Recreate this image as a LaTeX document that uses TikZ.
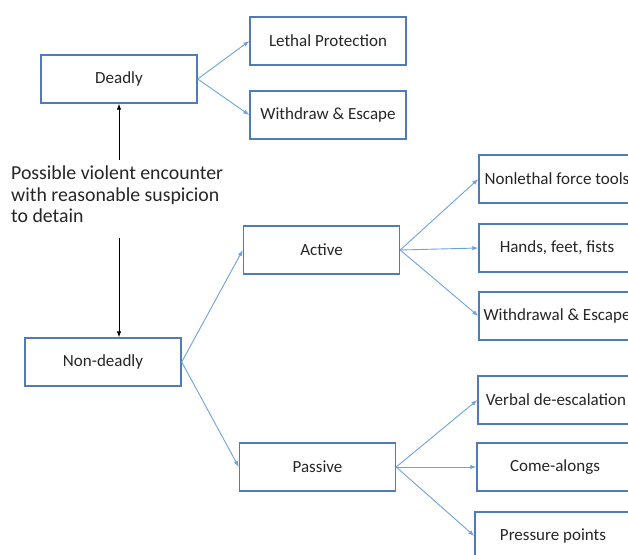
\documentclass[tikz,border=0pt]{standalone}
\usepackage{fontspec}
\setmainfont{Carlito}
\usetikzlibrary{arrows.meta}
\definecolor{boxblue}{HTML}{4F7CB8}
\definecolor{lineblue}{HTML}{6FA3DC}
\definecolor{txt}{HTML}{262626}
\begin{document}
\begin{tikzpicture}[x=1pt,y=-1pt,
  box/.style={draw=boxblue,line width=1.4pt,minimum width=156pt,minimum height=48pt,inner sep=0pt,text=txt,font=\fontsize{17}{20}\selectfont},
  bl/.style={draw=lineblue,line width=0.9pt,-{Latex[length=6pt,width=4.5pt]}},
  bk/.style={draw=black,line width=0.8pt,-{Latex[length=6pt,width=4.5pt]}}]
\useasboundingbox (0,0) rectangle (628,554);
\clip (0,0) rectangle (628,554);
\fill[white] (0,0) rectangle (628,554);
\node[box] (deadly) at (119,79) {Deadly};
\node[box] (lethal) at (328,41) {Lethal Protection};
\node[box] (wesc) at (328,115) {Withdraw \& Escape};
\node[box] (nd) at (103,362) {Non-deadly};
\node[box] (active) at (321.5,250) {Active};
\node[box] (passive) at (317.5,467) {Passive};
\node[box] (nl) at (557,179) {Nonlethal force tools};
\node[box] (hands) at (557,248) {Hands, feet, fists};
\node[box] (wdesc) at (557,316) {Withdrawal \& Escape};
\node[box] (verbal) at (556,400) {Verbal de-escalation};
\node[box] (come) at (555,467) {Come-alongs};
\node[box] (press) at (553,536) {Pressure points};
\node[anchor=north west,inner sep=0pt,align=left,text=txt,font=\fontsize{19.8}{21.5}\selectfont] (q) at (11,166) {Possible violent encounter\\with reasonable suspicion\\to detain};
\coordinate (up) at (119,160);
\coordinate (down) at (119,238);
\draw[bk] (up) -- (deadly.south);
\draw[bk] (down) -- (down |- nd.north);
\draw[bl] (deadly.east) -- (lethal.west);
\draw[bl] (deadly.east) -- (wesc.west);
\draw[bl] (nd.east) -- (active.west);
\draw[bl] (nd.east) -- (passive.west);
\draw[bl] (active.east) -- (nl.west);
\draw[bl] (active.east) -- (hands.west);
\draw[bl] (active.east) -- (wdesc.west);
\draw[bl] (passive.east) -- (verbal.west);
\draw[bl] (passive.east) -- (come.west);
\draw[bl] (passive.east) -- (press.west);
\end{tikzpicture}
\end{document}
